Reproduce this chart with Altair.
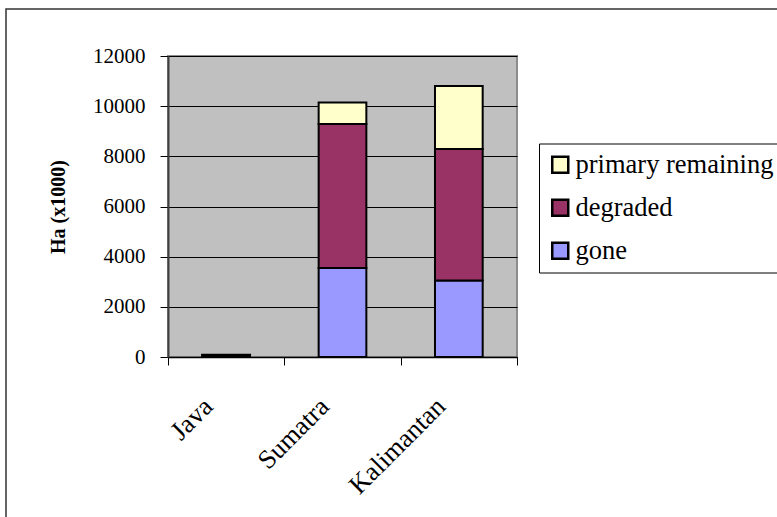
import altair as alt
import pandas as pd

islands = ["Java", "Sumatra", "Kalimantan"]
types = ["primary remaining", "degraded", "gone"]
colors = ["#FFFFCC", "#993366", "#9999FF"]
gone = [50, 3550, 3050]
degraded = [25, 5740, 5240]
primary = [10, 860, 2510]
y_ticks = [0, 2000, 4000, 6000, 8000, 10000, 12000]

rows = []
for i, isl in enumerate(islands):
    rows.append({"island": isl, "type": "gone", "value": gone[i], "ord": 0})
    rows.append({"island": isl, "type": "degraded", "value": degraded[i], "ord": 1})
    rows.append({"island": isl, "type": "primary remaining", "value": primary[i], "ord": 2})
df = pd.DataFrame(rows)

serif = "Liberation Serif"

bars = alt.Chart(df).mark_bar(
    stroke="black", strokeWidth=2, width=alt.RelativeBandSize(0.41)
).encode(
    x=alt.X(
        "island:N",
        sort=islands,
        scale=alt.Scale(paddingInner=0, paddingOuter=0),
        axis=alt.Axis(
            title=None, labelAngle=-45, labelAlign="right", labelBaseline="middle",
            labelFont=serif, labelFontSize=26.5, labelColor="black",
            labelPadding=37, labelOffset=-18, tickBand="extent", ticks=True,
            tickSize=8, tickColor="black", domainColor="black", domainWidth=1.5,
            grid=False,
        ),
    ),
    y=alt.Y(
        "value:Q",
        stack="zero",
        scale=alt.Scale(domain=[0, 12000]),
        axis=alt.Axis(
            title="Ha (x1000)", titleFont=serif, titleFontWeight="bold",
            titleFontSize=20, titleColor="black", titlePadding=24,
            values=y_ticks, format="d", labelFont=serif, labelFontSize=21,
            labelColor="black", labelPadding=15, tickSize=8, tickColor="black",
            domainColor="#404040", domainWidth=2, gridColor="black", gridWidth=1,
        ),
    ),
    color=alt.Color(
        "type:N",
        scale=alt.Scale(domain=types, range=colors),
        legend=alt.Legend(
            title=None, orient="none", legendX=371, legendY=87.5,
            direction="vertical", strokeColor="black", fillColor="white",
            padding=8, symbolType="square", symbolSize=256,
            symbolStrokeWidth=2.5, symbolStrokeColor="black", symbolOpacity=1,
            labelFont=serif, labelFontSize=26.5, labelColor="black",
            labelOffset=2, rowPadding=16, labelLimit=400,
        ),
    ),
    order=alt.Order("ord:Q"),
)

frame = alt.Chart(pd.DataFrame({"a": [0]})).mark_rect(
    fill="transparent", stroke="#333333", strokeWidth=1.5
).encode(
    x=alt.value(-162), x2=alt.value(700), y=alt.value(-47), y2=alt.value(600)
)

chart = alt.layer(frame, bars).properties(
    width=349,
    height=301,
    autosize=alt.AutoSizeParams(type="none"),
    padding={"left": 168, "top": 56, "right": 260, "bottom": 160},
    background="white",
).configure(
    font=serif
).configure_view(
    fill="#C0C0C0", stroke="#8c8c8c", strokeWidth=2
)

chart.save("out.html", embed_options={"renderer": "svg", "actions": False})
